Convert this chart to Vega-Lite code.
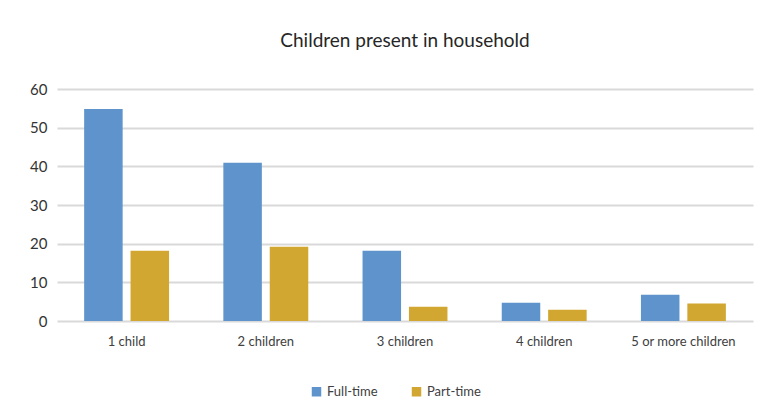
{
  "$schema": "https://vega.github.io/schema/vega-lite/v6.json",
  "autosize": "none",
  "width": 696,
  "height": 232,
  "padding": {"left": 57, "top": 89, "right": 12, "bottom": 96},
  "background": "white",
  "title": {"text": "Children present in household", "font": "Lato", "fontSize": 19, "fontWeight": "normal", "color": "#262626", "offset": 31, "anchor": "middle"},
  "config": {"view": {"stroke": null}, "font": "Lato"},
  "data": {"values": [
    {"cat": "1 child", "type": "Full-time", "value": 54.8},
    {"cat": "1 child", "type": "Part-time", "value": 18.2},
    {"cat": "2 children", "type": "Full-time", "value": 40.9},
    {"cat": "2 children", "type": "Part-time", "value": 19.2},
    {"cat": "3 children", "type": "Full-time", "value": 18.2},
    {"cat": "3 children", "type": "Part-time", "value": 3.7},
    {"cat": "4 children", "type": "Full-time", "value": 4.7},
    {"cat": "4 children", "type": "Part-time", "value": 2.9},
    {"cat": "5 or more children", "type": "Full-time", "value": 6.8},
    {"cat": "5 or more children", "type": "Part-time", "value": 4.5}
  ]},
  "mark": {"type": "bar"},
  "encoding": {
    "x": {"field": "cat", "type": "nominal", "sort": null, "title": null,
      "scale": {"paddingInner": 0.39, "paddingOuter": 0.195},
      "axis": {"labelAngle": 0, "domain": false, "ticks": false, "labelFontSize": 13, "labelColor": "#404040", "labelPadding": 14, "labelFont": "Lato"}},
    "xOffset": {"field": "type", "type": "nominal", "scale": {"paddingInner": 0.17, "paddingOuter": 0}},
    "y": {"field": "value", "type": "quantitative", "title": null,
      "scale": {"domain": [0, 60]},
      "axis": {"values": [0, 10, 20, 30, 40, 50, 60], "domain": false, "ticks": false, "gridColor": "#d9d9d9", "gridWidth": 2, "labelFontSize": 15, "labelColor": "#333333", "labelPadding": 10, "labelFont": "Lato"}},
    "color": {"field": "type", "type": "nominal", "title": null,
      "scale": {"domain": ["Full-time", "Part-time"], "range": ["#5e94cb", "#d1a631"]},
      "legend": {"orient": "none", "legendX": 253, "legendY": 296, "direction": "horizontal", "symbolType": "square", "symbolSize": 90, "labelFontSize": 13, "labelColor": "#404040", "labelFont": "Lato", "columnPadding": 32, "symbolOpacity": 1, "symbolStrokeWidth": 0}}
  }
}
